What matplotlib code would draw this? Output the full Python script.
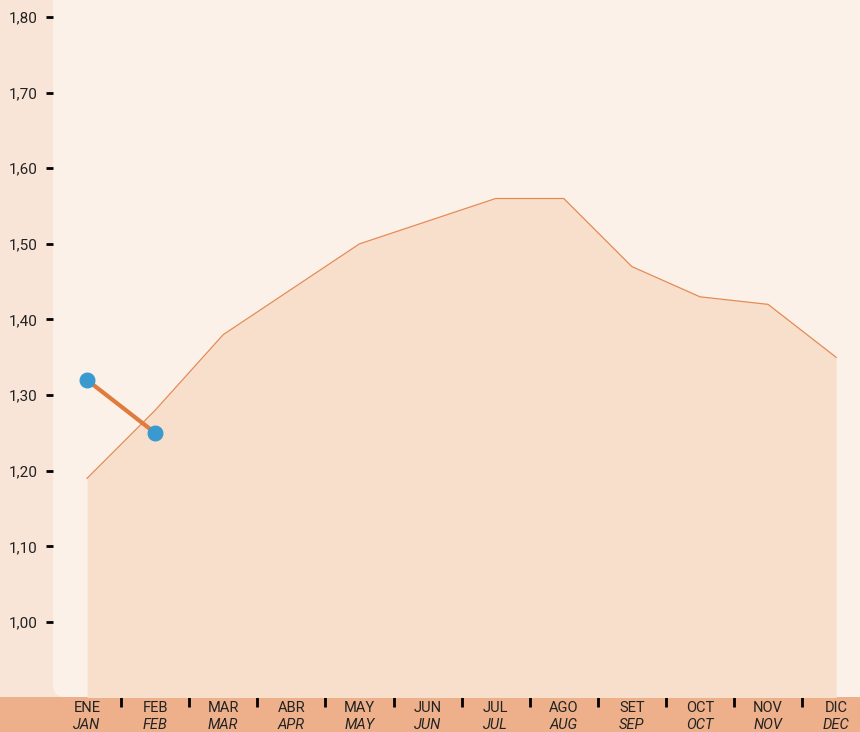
import matplotlib
matplotlib.use("Agg")
import matplotlib.pyplot as plt
import matplotlib.transforms as mtransforms
from matplotlib.patches import FancyBboxPatch, Rectangle
import numpy as np

# ---- data ----
meses_es = ["ENE", "FEB", "MAR", "ABR", "MAY", "JUN", "JUL", "AGO", "SET", "OCT", "NOV", "DIC"]
meses_en = ["JAN", "FEB", "MAR", "APR", "MAY", "JUN", "JUL", "AUG", "SEP", "OCT", "NOV", "DEC"]
area_vals = [1.19, 1.28, 1.38, 1.44, 1.50, 1.53, 1.56, 1.56, 1.47, 1.43, 1.42, 1.35]
linea_vals = [1.32, 1.25]
y_ticks = [1.00, 1.10, 1.20, 1.30, 1.40, 1.50, 1.60, 1.70, 1.80]

FONT = ["Roboto", "DejaVu Sans"]
plt.rcParams["font.family"] = FONT

W, H = 860, 732
fig = plt.figure(figsize=(W / 100, H / 100), dpi=100)
fig.patch.set_facecolor("#F8E5D7")

# fondo claro con esquina redondeada + banda inferior (debajo de los ejes)
px = mtransforms.IdentityTransform()
fondo = FancyBboxPatch((53, 35), 900, 800, boxstyle="round,pad=0,rounding_size=12",
                       facecolor="#FCF1E8", edgecolor="none", transform=px, zorder=-2)
fig.patches.append(fondo)
banda = Rectangle((0, 0), W, 35, facecolor="#EDB08A", edgecolor="none", transform=px, zorder=-1)
fig.patches.append(banda)

ax = fig.add_axes([53 / W, 35 / H, (W - 53) / W, (H - 35) / H])
ax.set_facecolor("none")
for s in ax.spines.values():
    s.set_visible(False)

x = np.arange(len(meses_es))
ymin = 0.9008
ax.set_xlim(-0.5, 11.35)
ax.set_ylim(ymin, 1.8225)

ax.fill_between(x, area_vals, ymin - 0.01, color="#F7DFCC", lw=0, zorder=2)
ax.plot(x, area_vals, color="#E58A55", lw=0.9, zorder=3)

ax.plot(x[:len(linea_vals)], linea_vals, color="#E07A3E", lw=3, zorder=4,
        marker="o", markersize=10.5, markerfacecolor="#3A9AD0", markeredgecolor="#3A9AD0")

# eje y
ax.set_yticks(y_ticks)
ax.set_yticklabels([f"{v:.2f}".replace(".", ",") for v in y_ticks])
ax.tick_params(axis="y", direction="out", length=5, width=2, color="black",
               labelsize=11, pad=6, labelcolor="#222222")

# eje x
ax.set_xticks([])
ax.set_xticks(np.arange(0.5, 11, 1), minor=True)
ax.tick_params(axis="x", which="minor", direction="out", length=7, width=2, color="black",
               labelbottom=False)
trans = mtransforms.blended_transform_factory(ax.transData, ax.transAxes)
for i in x:
    ax.text(i, -0.0155, meses_es[i], transform=trans, ha="center", va="center",
            fontsize=10.5, color="#222222")
    ax.text(i, -0.0395, meses_en[i], transform=trans, ha="center", va="center",
            fontsize=10.5, color="#222222", style="italic")

fig.savefig("out.png", dpi=100, facecolor=fig.get_facecolor())
